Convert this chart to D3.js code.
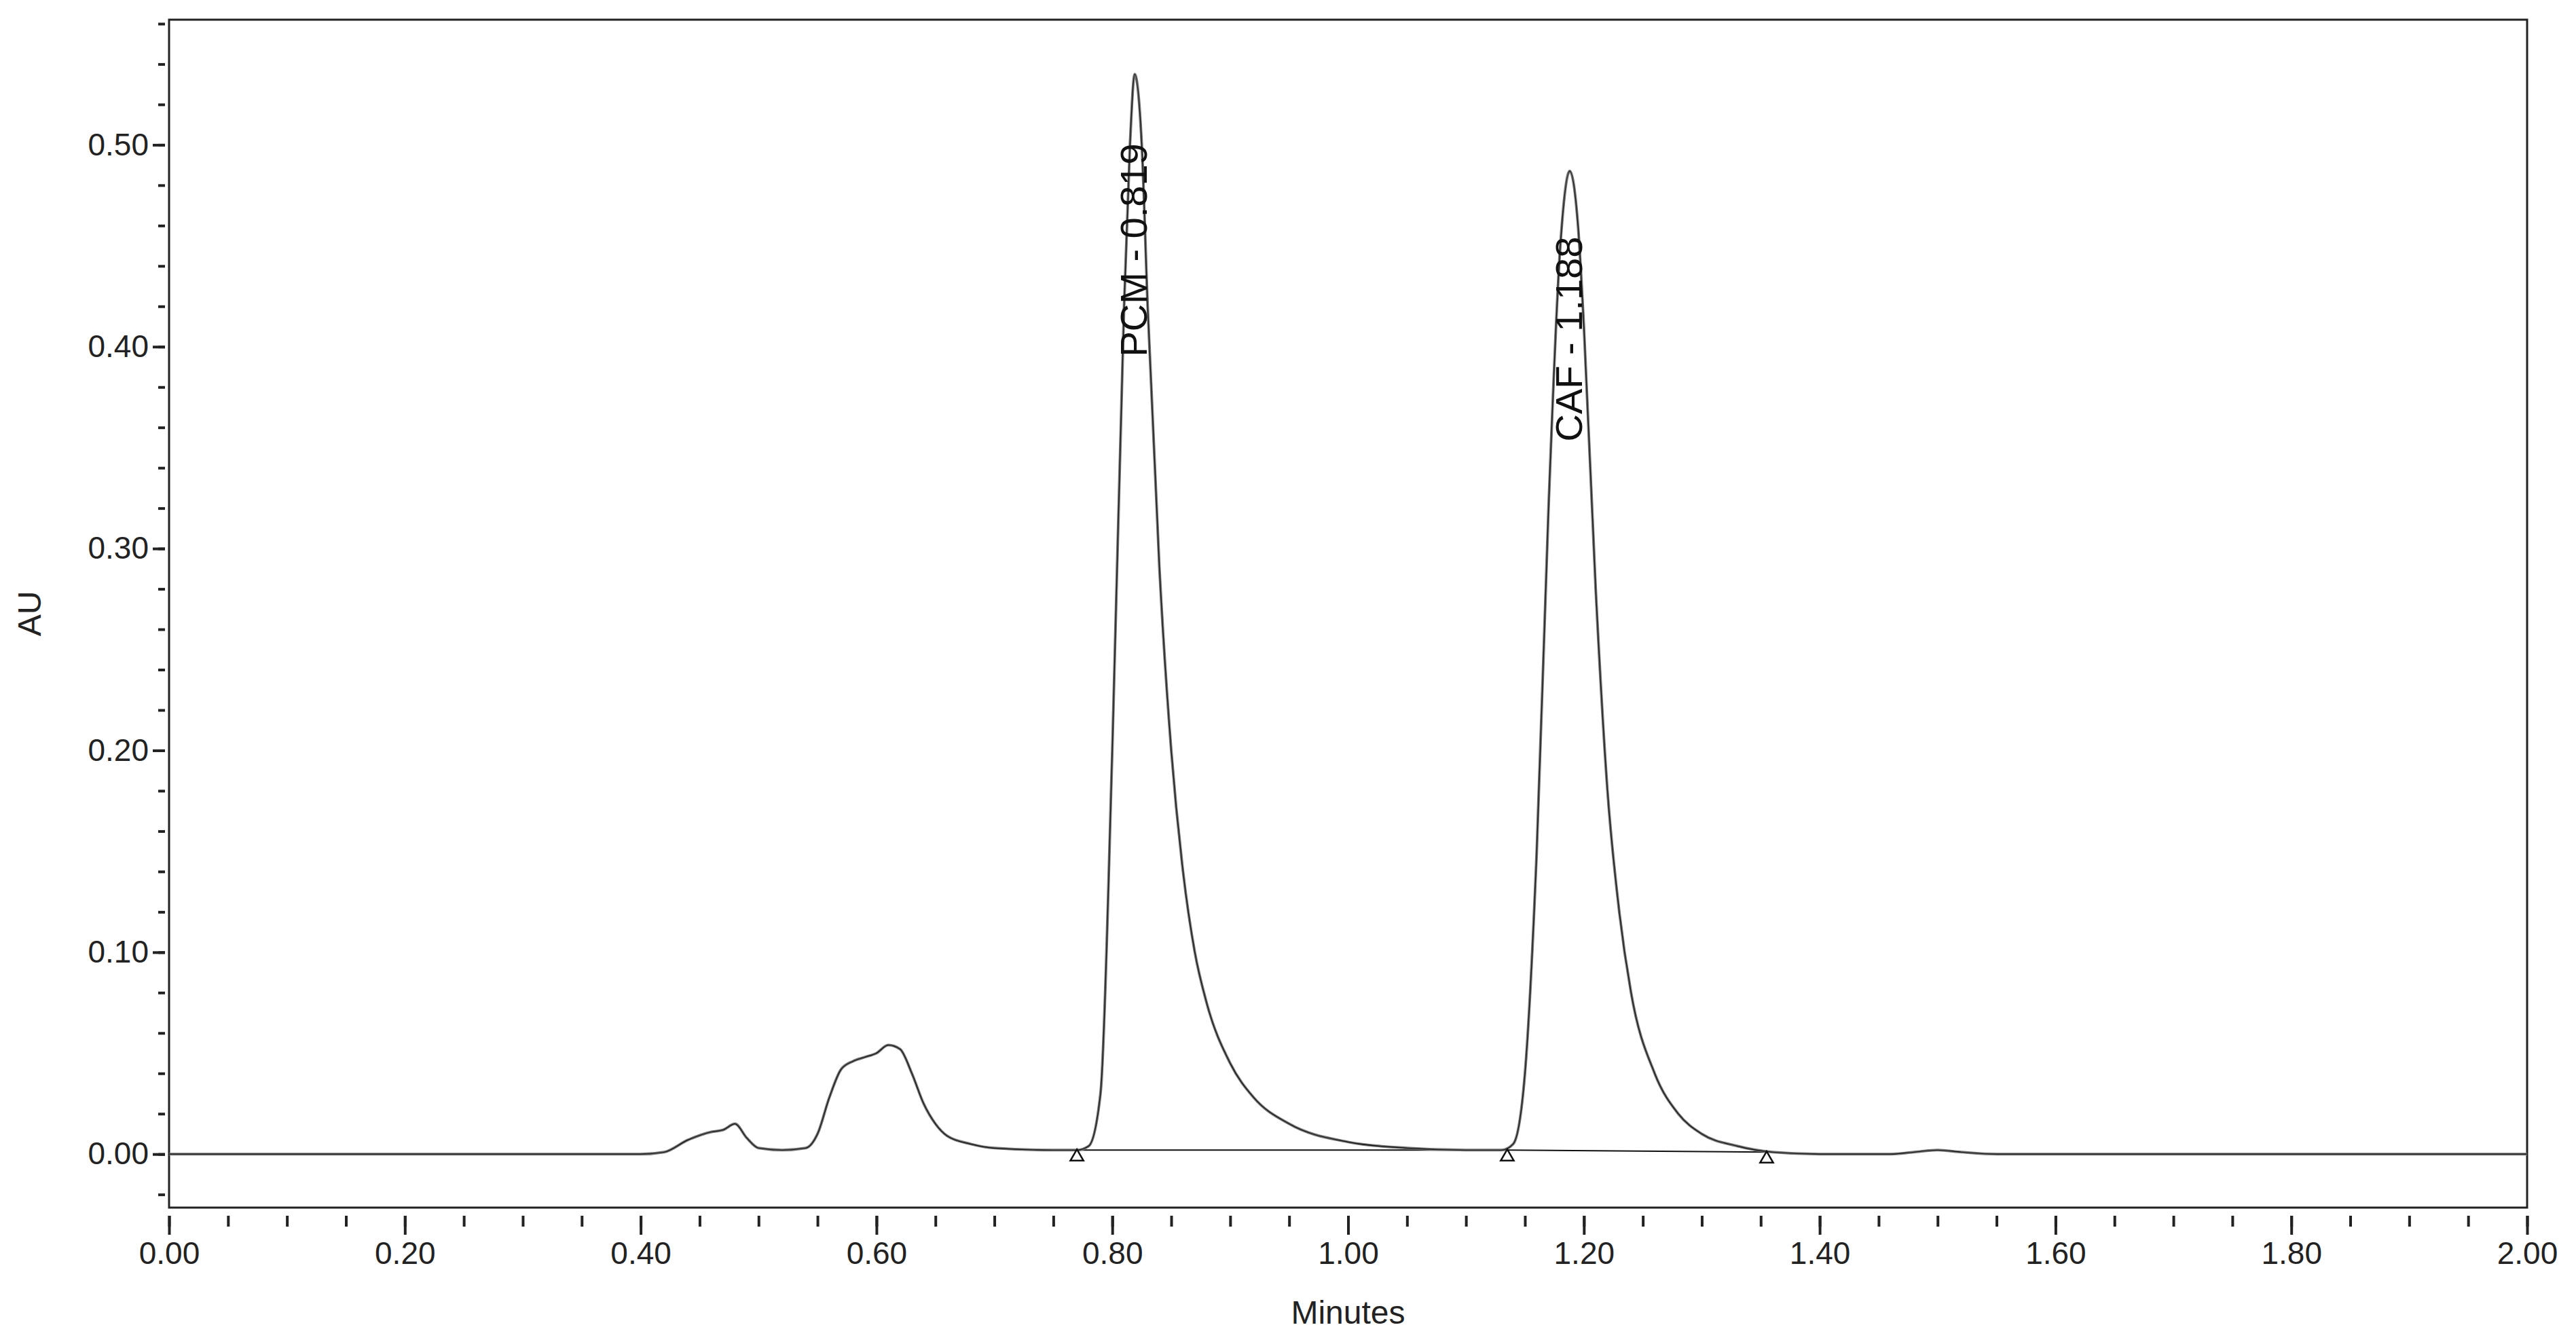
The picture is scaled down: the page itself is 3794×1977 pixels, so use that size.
<!DOCTYPE html>
<html>
<head>
<meta charset="utf-8">
<script src="https://cdn.jsdelivr.net/npm/d3@7"></script>
<style>
body { margin: 0; background: #fff; }
text { font-family: Arial, "Liberation Sans", sans-serif; }
</style>
</head>
<body>
<svg id="chart" width="3794" height="1977"></svg>
<script>
// chromatogram trace (minutes, AU)
var times = [0, 0.40, 0.42, 0.44, 0.46, 0.47, 0.48, 0.49, 0.50, 0.52, 0.54, 0.55, 0.56, 0.57, 0.58, 0.59, 0.60, 0.61, 0.62, 0.63, 0.64, 0.65, 0.66, 0.68, 0.70, 0.75, 0.77, 0.78, 0.79, 0.80, 0.81, 0.815, 0.819, 0.825, 0.83, 0.84, 0.85, 0.86, 0.87, 0.88, 0.90, 0.92, 0.95, 1.00, 1.05, 1.10, 1.13, 1.14, 1.15, 1.16, 1.17, 1.18, 1.188, 1.195, 1.20, 1.21, 1.22, 1.23, 1.24, 1.26, 1.28, 1.30, 1.33, 1.36, 1.40, 1.46, 1.48, 1.50, 1.52, 1.55, 2.0];
var au = [0, 0, 0.001, 0.007, 0.011, 0.012, 0.015, 0.008, 0.003, 0.002, 0.003, 0.010, 0.028, 0.042, 0.046, 0.048, 0.050, 0.054, 0.052, 0.040, 0.025, 0.015, 0.009, 0.005, 0.003, 0.002, 0.002, 0.004, 0.030, 0.200, 0.420, 0.500, 0.535, 0.500, 0.420, 0.290, 0.200, 0.140, 0.100, 0.075, 0.045, 0.028, 0.015, 0.006, 0.003, 0.002, 0.002, 0.005, 0.040, 0.150, 0.320, 0.450, 0.487, 0.460, 0.410, 0.280, 0.180, 0.120, 0.080, 0.040, 0.020, 0.010, 0.004, 0.001, 0, 0, 0.001, 0.002, 0.001, 0, 0];

var peakNames = ["PCM - 0.819", "CAF - 1.188"];
var peakTimes = [0.819, 1.188];
var peakLabelBottom = [0.395, 0.353];
var baselineMarks = [0.77, 1.135, 1.355];
var baselineLevels = [0.002, 0.002, 0.001];

var xTicks = [0, 0.2, 0.4, 0.6, 0.8, 1.0, 1.2, 1.4, 1.6, 1.8, 2.0];
var yTicks = [0, 0.1, 0.2, 0.3, 0.4, 0.5];

var mLeft = 249, mRight = 3722, mTop = 29, mBottom = 1779;
var svg = d3.select("#chart");
var x = d3.scaleLinear().domain([0, 2]).range([mLeft, mRight]);
var y = d3.scaleLinear().domain([-0.0265, 0.562]).range([mBottom, mTop]);

svg.append("rect").attr("x", mLeft).attr("y", mTop).attr("width", mRight - mLeft).attr("height", mBottom - mTop)
  .attr("fill", "none").attr("stroke", "#222").attr("stroke-width", 3);

// x axis
svg.append("g").attr("transform", "translate(0," + (mBottom + 12) + ")")
  .call(d3.axisBottom(x).tickValues(xTicks).tickFormat(d3.format(".2f")).tickSize(28).tickPadding(10));
svg.append("g").attr("transform", "translate(0," + (mBottom + 12) + ")")
  .call(d3.axisBottom(x).tickValues(d3.range(0, 2.001, 0.05)).tickFormat("").tickSize(16));

// y axis
svg.append("g").attr("transform", "translate(" + (mLeft - 6) + ",0)")
  .call(d3.axisLeft(y).tickValues(yTicks).tickFormat(d3.format(".2f")).tickSize(18).tickPadding(6));
svg.append("g").attr("transform", "translate(" + (mLeft - 6) + ",0)")
  .call(d3.axisLeft(y).tickValues(d3.range(-0.02, 0.561, 0.02)).tickFormat("").tickSize(10));

svg.selectAll(".domain").remove();
svg.selectAll(".tick line").attr("stroke", "#222").attr("stroke-width", 4);
svg.selectAll(".tick text").attr("font-size", 46).attr("fill", "#222");

svg.append("text").attr("x", (mLeft + mRight) / 2).attr("y", 1950).attr("text-anchor", "middle")
  .attr("font-size", 48).attr("fill", "#222").text("Minutes");
svg.append("text").attr("transform", "translate(60," + ((mTop + mBottom) / 2) + ") rotate(-90)")
  .attr("text-anchor", "middle").attr("font-size", 48).attr("fill", "#222").text("AU");

// baselines between integration marks
svg.append("path")
  .attr("d", d3.line().x(function(d) { return x(d); }).y(function(d, i) { return y(baselineLevels[i]); })(baselineMarks))
  .attr("fill", "none").attr("stroke", "#111").attr("stroke-width", 2);

// trace
var pts = times.map(function(t, i) { return [t, au[i]]; });
var line = d3.line().x(function(d) { return x(d[0]); }).y(function(d) { return y(d[1]); }).curve(d3.curveMonotoneX);
svg.append("path").attr("d", line(pts))
  .attr("fill", "none").attr("stroke", "#777").attr("stroke-width", 4);
svg.append("path").attr("d", line(pts))
  .attr("fill", "none").attr("stroke", "#111").attr("stroke-width", 1.2);

// triangle markers
svg.selectAll(".mark").data(baselineMarks).enter().append("path")
  .attr("d", d3.symbol(d3.symbolTriangle, 160)())
  .attr("transform", function(d, i) { return "translate(" + x(d) + "," + (y(baselineLevels[i]) + 10) + ")"; })
  .attr("fill", "#fff").attr("stroke", "#111").attr("stroke-width", 2.5);

// peak labels
svg.selectAll(".plab").data(peakNames).enter().append("text")
  .attr("transform", function(d, i) { return "translate(" + (x(peakTimes[i]) + 18) + "," + y(peakLabelBottom[i]) + ") rotate(-90)"; })
  .attr("font-size", 56).attr("fill", "#111").text(function(d) { return d; });
</script>
</body>
</html>
